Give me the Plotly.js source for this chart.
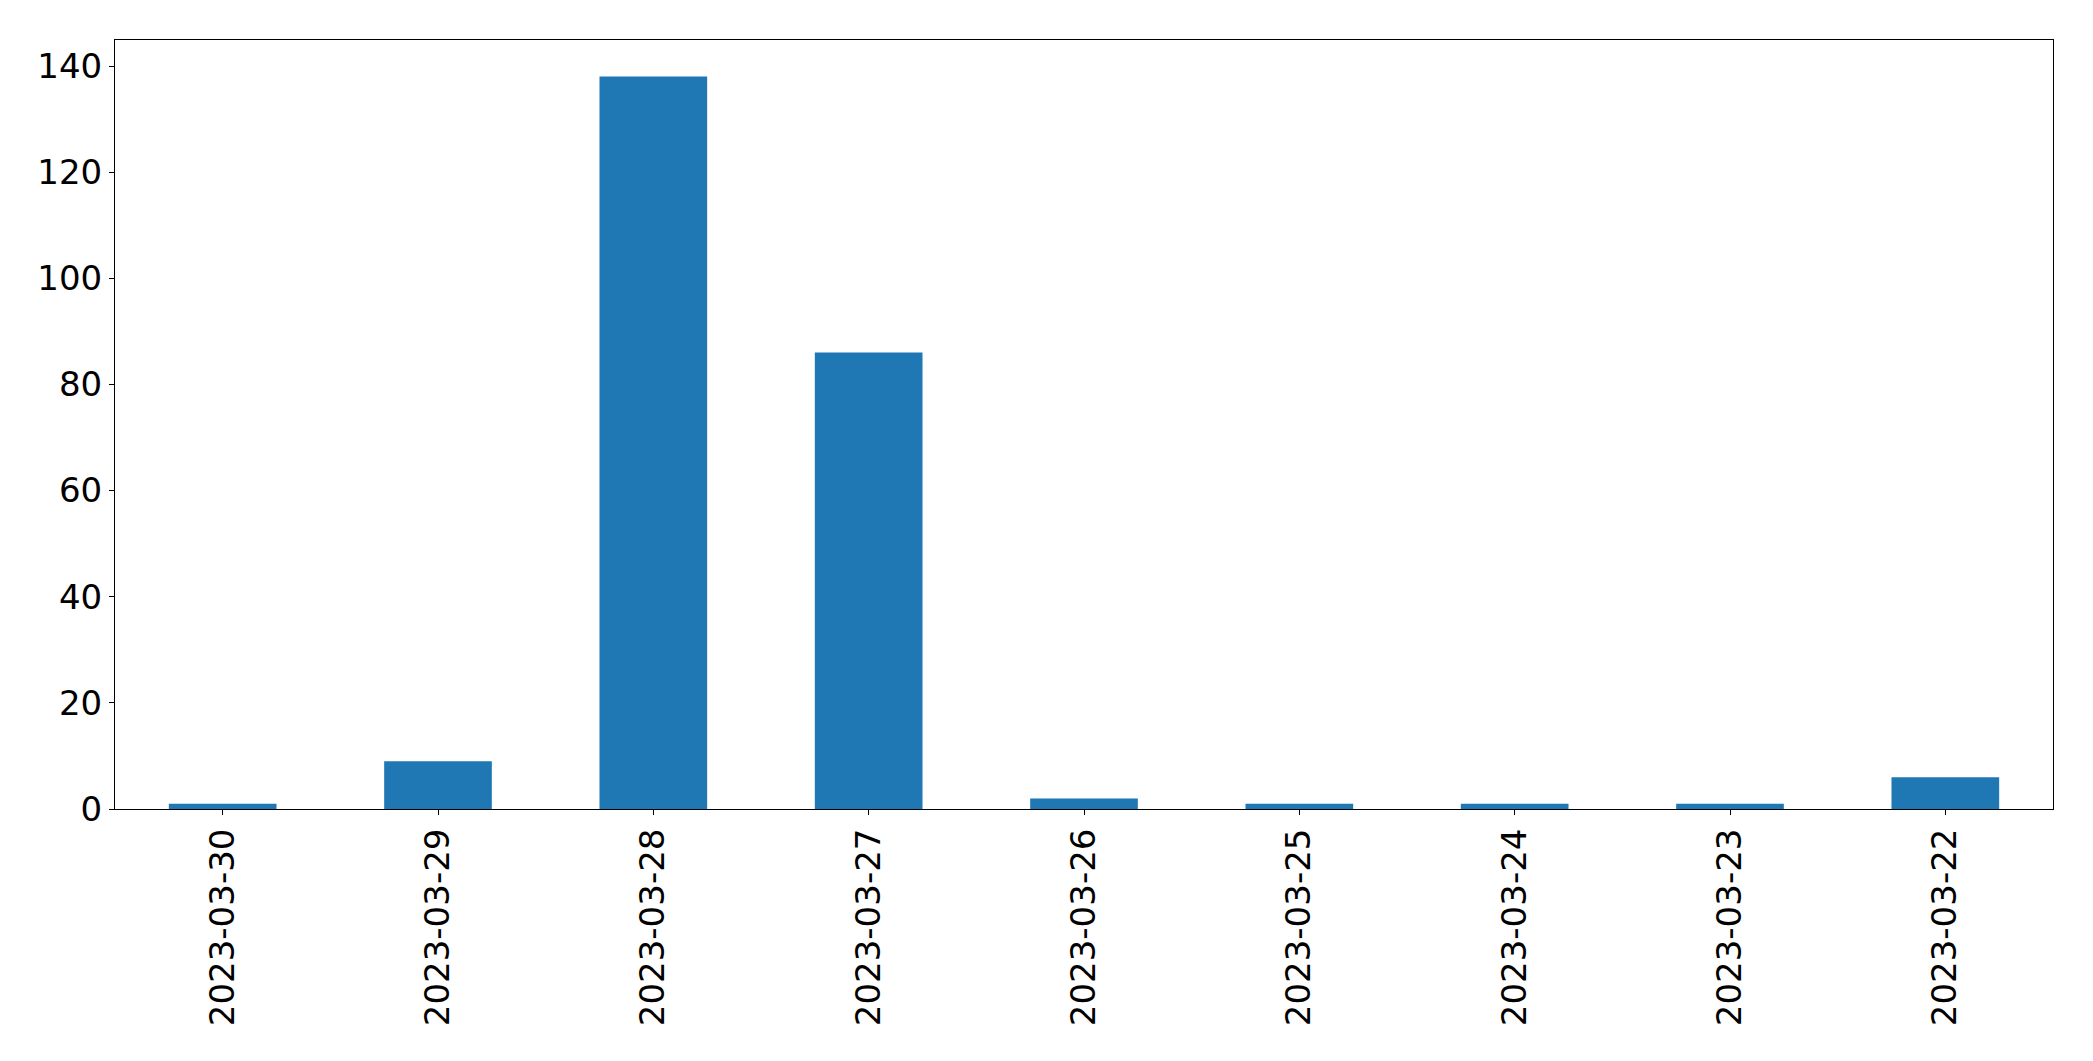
<!DOCTYPE html>
<html>
<head>
<meta charset="utf-8">
<script src="https://cdn.plot.ly/plotly-3.0.1.min.js"></script>
<style>html,body{margin:0;padding:0;background:#fff;}#chart{width:2093px;height:1061px;}</style>
</head>
<body>
<div id="chart"></div>
<script>
const dates = ["2023-03-30","2023-03-29","2023-03-28","2023-03-27","2023-03-26","2023-03-25","2023-03-24","2023-03-23","2023-03-22"];
const counts = [1, 9, 138, 86, 2, 1, 1, 1, 6];
const yTicks = [0, 20, 40, 60, 80, 100, 120, 140];

const trace = {
  type: "bar",
  x: dates,
  y: counts,
  width: 0.5,
  marker: {color: "#1f77b4", line: {width: 0}},
  hoverinfo: "x+y"
};

const font = {family: "DejaVu Sans", size: 34, color: "#000"};

const layout = {
  width: 2093,
  height: 1061,
  margin: {l: 115, r: 40, t: 40, b: 252, pad: 0},
  paper_bgcolor: "#fff",
  plot_bgcolor: "#fff",
  showlegend: false,
  bargap: 0.5,
  font: font,
  xaxis: {
    type: "category",
    range: [-0.5, dates.length - 0.5],
    tickangle: -90,
    ticks: "outside",
    ticklen: 5,
    tickwidth: 1,
    tickcolor: "#000",
    showline: true,
    linecolor: "#000",
    linewidth: 1,
    mirror: true,
    showgrid: false,
    zeroline: false,
    tickfont: font,
    ticklabelstandoff: 0
  },
  yaxis: {
    range: [0, Math.max(...counts) * 1.05],
    tickvals: yTicks,
    ticktext: yTicks.map(String),
    ticks: "outside",
    ticklen: 5,
    tickwidth: 1,
    tickcolor: "#000",
    showline: true,
    linecolor: "#000",
    linewidth: 1,
    mirror: true,
    showgrid: false,
    zeroline: false,
    tickfont: font,
    ticklabelstandoff: 0
  }
};

Plotly.newPlot("chart", [trace], layout, {displayModeBar: false, staticPlot: true});
</script>
</body>
</html>
